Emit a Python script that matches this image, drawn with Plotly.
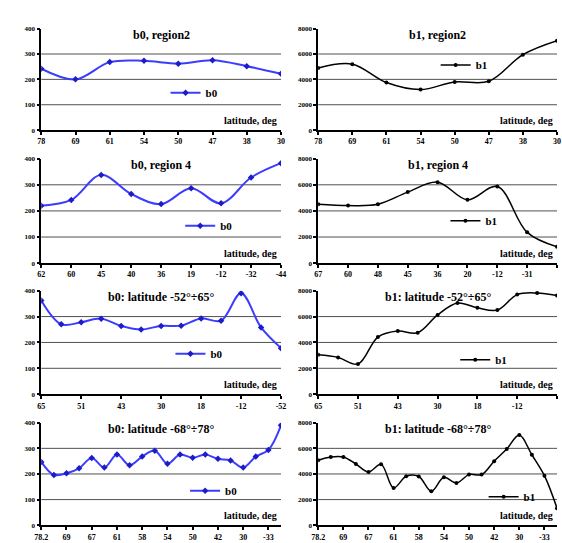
import plotly.graph_objects as go

# ---------------- data ----------------
lat_r2 = ["78", "69", "61", "54", "50", "47", "38", "30"]
b0_r2 = [242, 200, 268, 273, 262, 275, 252, 222]
b1_r2 = [4900, 5200, 3750, 3200, 3800, 3850, 5950, 7050]

lat_r4_b0 = ["62", "60", "45", "40", "36", "19", "-12", "-32", "-44"]
b0_r4 = [220, 242, 338, 265, 226, 287, 229, 328, 383]
lat_r4_b1 = ["67", "60", "48", "45", "36", "20", "-12", "-31", "-44"]
b1_r4 = [4510, 4410, 4510, 5440, 6200, 4850, 5870, 2360, 1260]

lat_52 = ["65", "51", "43", "30", "18", "-12", "-52"]
b0_52 = [362, 270, 278, 292, 264, 250, 264, 265, 293, 284, 390, 258, 178]
b1_52 = [3040, 2840, 2330, 4420, 4880, 4750, 6130, 7050, 6680, 6500, 7700, 7820, 7620]

lat_68 = ["78.2", "69", "67", "61", "58", "54", "50", "42", "30", "-33"]
b0_68 = [247, 196, 203, 222, 262, 225, 276, 234, 268, 291,
         240, 276, 263, 276, 259, 253, 225, 268, 294, 390]
b1_68 = [5075, 5325, 5325, 4775, 4150, 4750, 2910, 3820, 3800, 2650,
         3740, 3300, 3950, 3950, 5000, 5950, 7050, 5500, 3870, 1330]

titles = ["b0, region2", "b1, region2",
          "b0, region 4", "b1, region 4",
          "b0: latitude -52°÷65°", "b1: latitude -52°÷65°",
          "b0: latitude -68°÷78°", "b1: latitude -68°÷78°"]

# -------------- layout geometry --------------
W, H = 562, 543
xdom = [(35 / W, 280 / W), (318 / W, 1.0)]
rows_px = [(25, 128), (157, 263), (291, 396), (425, 529)]
ydom = [(1 - b / H, 1 - t / H) for t, b in rows_px]

SERIF = "Liberation Serif"
BLUE = "#3c3cff"
BLUE_M = "#1c1cc8"

panels = [
    # (row, col, labels, values, label_step, name, ymax, dtick)
    (0, 0, lat_r2, b0_r2, 1, "b0", 400, 100),
    (0, 1, lat_r2, b1_r2, 1, "b1", 8000, 2000),
    (1, 0, lat_r4_b0, b0_r4, 1, "b0", 400, 100),
    (1, 1, lat_r4_b1, b1_r4, 1, "b1", 8000, 2000),
    (2, 0, lat_52, b0_52, 2, "b0", 400, 100),
    (2, 1, lat_52, b1_52, 2, "b1", 8000, 2000),
    (3, 0, lat_68, b0_68, 2, "b0", 400, 100),
    (3, 1, lat_68, b1_68, 2, "b1", 8000, 2000),
]

# legend line start (px) and centre y (px) per panel
legend_px = [(168, 90), (444, 62), (183, 225), (454, 220),
             (173, 355), (464, 361), (188, 494), (493, 500)]

fig = go.Figure()
layout = dict(width=W, height=H, margin=dict(l=0, r=0, t=0, b=0),
              paper_bgcolor="white", plot_bgcolor="white", showlegend=True)
annotations = []
shapes = []

for k, (r, c, labels, vals, step, name, ymax, dtick) in enumerate(panels):
    idx = k + 1
    xa = "x" if idx == 1 else f"x{idx}"
    ya = "y" if idx == 1 else f"y{idx}"
    xkey = "xaxis" if idx == 1 else f"xaxis{idx}"
    ykey = "yaxis" if idx == 1 else f"yaxis{idx}"
    lkey = "legend" if idx == 1 else f"legend{idx}"
    n = len(vals)
    xs = list(range(n))
    is_b0 = name == "b0"
    fig.add_trace(go.Scatter(
        x=xs, y=vals, xaxis=xa, yaxis=ya, name=name, legend=lkey,
        mode="lines+markers",
        line=dict(color=BLUE if is_b0 else "black", width=2 if is_b0 else 1.5,
                  shape="spline", smoothing=1),
        marker=dict(symbol="diamond" if is_b0 else "circle",
                    size=5 if is_b0 else 4,
                    color=BLUE_M if is_b0 else "black"),
    ))
    layout[xkey] = dict(
        domain=list(xdom[c]), anchor=ya, range=[0, n - 1],
        tickmode="array", tickvals=xs[::step], ticktext=labels,
        showline=True, linecolor="black", linewidth=1.5,
        ticks="outside", ticklen=3, tickwidth=1.5, tickcolor="black",
        showgrid=False, zeroline=False,
        tickfont=dict(family=SERIF, size=8, color="black", weight="bold"),
    )
    layout[ykey] = dict(
        domain=list(ydom[r]), anchor=xa, range=[0, ymax],
        tickmode="linear", tick0=0, dtick=dtick,
        showline=True, linecolor="black", linewidth=1.5,
        ticks="outside", ticklen=3, tickwidth=1.5, tickcolor="black",
        showgrid=False, zeroline=False,
        tickfont=dict(family=SERIF, size=7, color="black", weight="bold"),
    )
    # horizontal grid lines (inner ticks only)
    for gv in range(dtick, ymax, dtick):
        shapes.append(dict(type="line", xref=f"{xa} domain", yref=ya,
                           x0=0, x1=1, y0=gv, y1=gv,
                           line=dict(color="#505050", width=1), layer="below"))
    # legend
    lx, ly = legend_px[k]
    layout[lkey] = dict(
        x=(lx - 6) / W, y=1 - ly / H, xanchor="left", yanchor="middle",
        bgcolor="rgba(0,0,0,0)", borderwidth=0, itemwidth=30,
        font=dict(family=SERIF, size=11, color="black", weight="bold"),
    )
    # title
    annotations.append(dict(
        text=titles[k], xref="paper", yref="paper",
        x=(xdom[c][0] + xdom[c][1]) / 2, y=1 - (rows_px[r][0] + 6) / H,
        xanchor="center", yanchor="middle", showarrow=False,
        font=dict(family=SERIF, size=12, color="black", weight="bold")))
    # axis caption
    annotations.append(dict(
        text="latitude, deg", xref="paper", yref="paper",
        x=xdom[c][1] - 2 / W, y=1 - (rows_px[r][1] - 10) / H,
        xanchor="right", yanchor="middle", showarrow=False,
        font=dict(family=SERIF, size=10, color="black", weight="bold")))

layout["annotations"] = annotations
layout["shapes"] = shapes
fig.update_layout(**layout)
fig.write_html("out.html")
